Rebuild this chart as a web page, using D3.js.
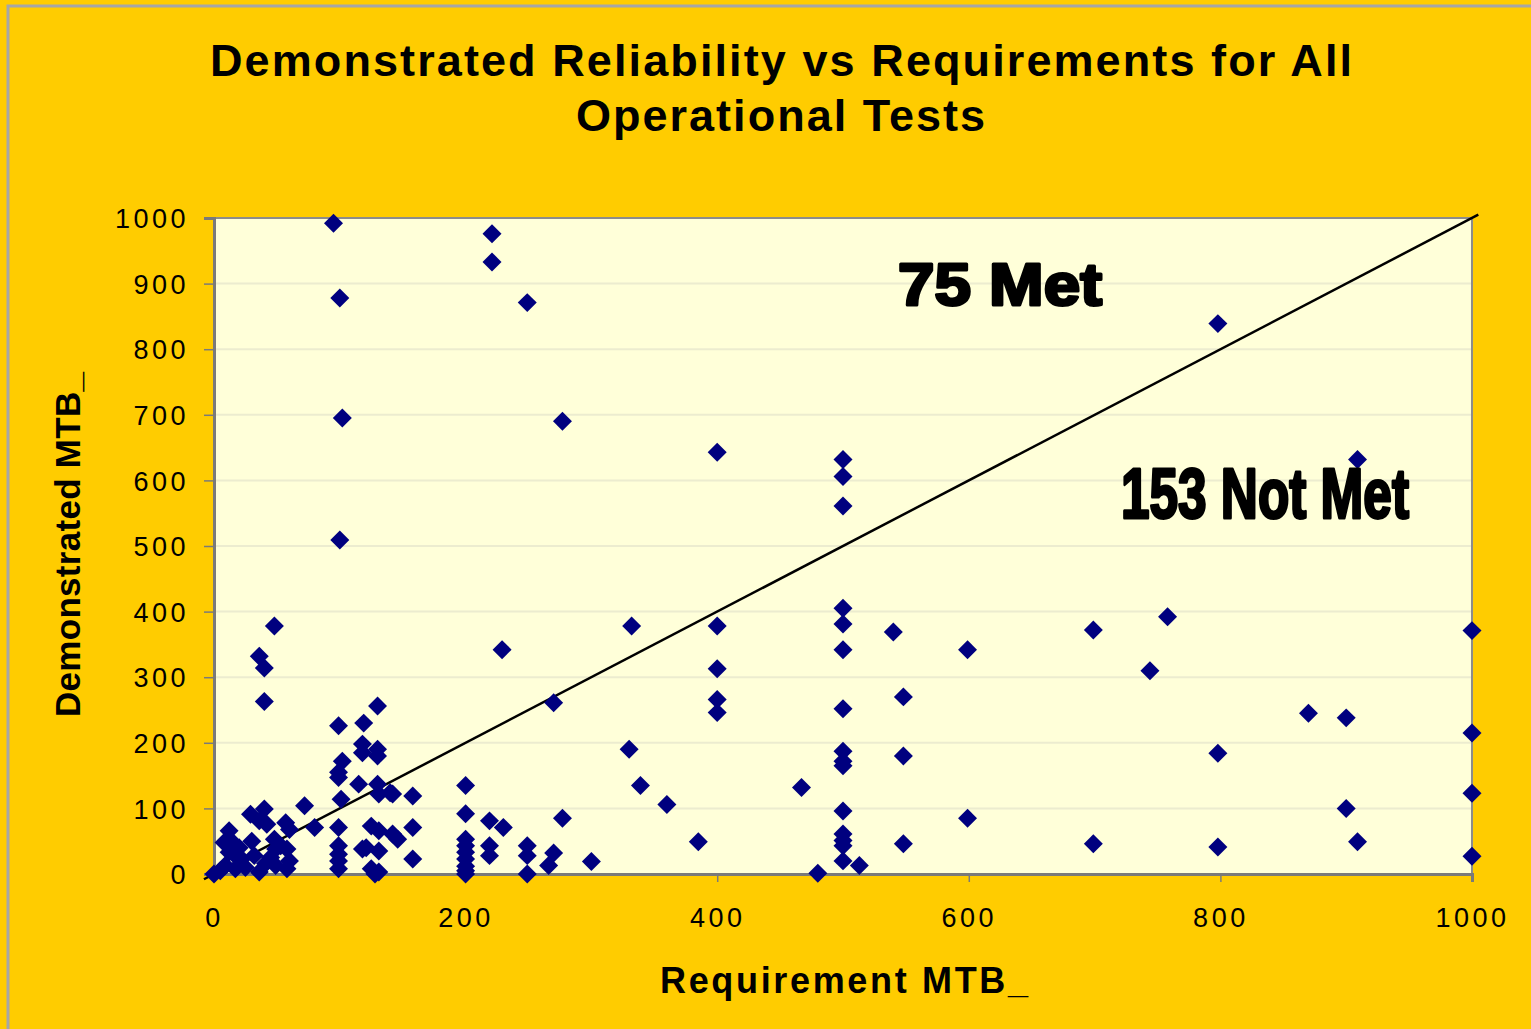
<!DOCTYPE html>
<html>
<head>
<meta charset="utf-8">
<script src="https://cdn.jsdelivr.net/npm/d3@7"></script>
<style>
  html, body { margin: 0; padding: 0; background: #FFCC00; }
  svg { display: block; }
</style>
</head>
<body>
<div id="chart"></div>
<script>
// chart values
const titleLines = ["Demonstrated Reliability vs Requirements for All", "Operational Tests"];
const xTitle = "Requirement MTB_";
const yTitle = "Demonstrated MTB_";
const xTicks = [0, 200, 400, 600, 800, 1000];
const yTicks = [0, 100, 200, 300, 400, 500, 600, 700, 800, 900, 1000];
const metLabel = "75 Met";
const notMetLabel = "153 Not Met";
const diagonal = [[-8, -8], [1005, 1005]];

// requirement (x) and demonstrated (y) for each test, same order
const requirement = [
  95, 100, 102, 100, 221, 221, 249, 277, 400, 798, 909,
  500, 500, 500, 500, 500, 500, 500, 500, 500, 500, 500, 500, 500, 500, 500, 513, 480, 467,
  540, 548, 548, 548, 599, 599, 699, 699, 744, 758, 798, 798, 870, 900, 900, 909, 1000, 1000, 1000, 1000,
  400, 400, 400, 400, 332, 229, 270, 330, 339, 360, 385,
  200, 200, 200, 200, 200, 200, 200, 200, 200,
  219, 219, 219, 230, 249, 249, 249, 266, 270, 277, 300,
  48, 36, 40, 40,
  99, 119, 130, 118, 130, 118, 130, 102, 99, 115, 130, 131, 142, 158, 101, 72, 80, 99, 125, 131, 142, 146,
  158, 118, 131, 99, 99, 99, 99, 158, 125, 131, 128, 121, 140, 99,
  12, 8, 15, 12, 17, 22, 9, 17, 0, 32, 36, 41, 49, 58, 49, 58, 29, 40, 36, 42, 57, 60, 48, 53, 25, 5, 30, 20, 45, 60
];
const demonstrated = [
  992, 878, 695, 509, 976, 933, 871, 690, 643, 839, 632,
  632, 606, 561, 405, 381, 342, 252, 187, 172, 165, 96, 61, 51, 43, 20, 13, 1, 132,
  369, 270, 180, 46, 342, 85, 372, 46, 310, 392, 184, 41, 245, 238, 100, 49, 371, 215, 123, 27,
  378, 313, 266, 246, 378, 342, 261, 190, 135, 106, 49,
  135, 92, 53, 43, 33, 23, 12, 5, 0,
  81, 43, 28, 71, 43, 28, 0, 13, 32, 85, 19,
  378, 332, 314, 263,
  226, 230, 256, 198, 190, 185, 180, 172, 147, 137, 137, 122, 122, 119, 114, 104, 71, 71, 73, 66, 61, 53,
  71, 38, 35, 43, 30, 20, 8, 23, 8, 3, 0, 40, 124, 155,
  66, 48, 48, 33, 28, 23, 13, 8, 0, 28, 3, 16, 38, 38, 13, 8, 91, 99, 81, 76, 78, 68, 53, 43, 10, 5, 50, 40, 25, 20
];

const W = 1531, H = 1029;
const margin = { top: 218, right: 59, bottom: 155, left: 214 };
const width = W - margin.left - margin.right;
const height = H - margin.top - margin.bottom;
const font = "'Liberation Sans', Arial, sans-serif";

const svg = d3.select("#chart").append("svg")
    .attr("width", W)
    .attr("height", H);

svg.append("rect").attr("width", W).attr("height", H).attr("fill", "#FFCC00");
// outer frame
svg.append("rect")
    .attr("x", 8).attr("y", 6)
    .attr("width", W + 20).attr("height", H + 20)
    .attr("fill", "none")
    .attr("stroke", "#A6A6A6")
    .attr("stroke-width", 3);

// title
svg.append("g").selectAll("text")
    .data(titleLines)
    .enter().append("text")
    .attr("x", (d, i) => i === 0 ? 210 : 576)
    .attr("y", (d, i) => 76 + i * 55)
    .attr("textLength", (d, i) => i === 0 ? 1142 : 409)
    .attr("lengthAdjust", "spacing")
    .style("font-family", font)
    .style("font-weight", "bold")
    .style("font-size", "45px")
    .style("fill", "#000")
    .text(d => d);

const g = svg.append("g").attr("transform", `translate(${margin.left},${margin.top})`);

const x = d3.scaleLinear().domain([0, 1000]).range([0, width]);
const y = d3.scaleLinear().domain([0, 1000]).range([height, 0]);

// plot area
g.append("rect")
    .attr("width", width).attr("height", height)
    .attr("fill", "#FFFFD9");

// gridlines
g.selectAll(".grid")
    .data(yTicks.filter(d => d > 0 && d < 1000))
    .enter().append("line")
    .attr("x1", 0).attr("x2", width)
    .attr("y1", d => y(d)).attr("y2", d => y(d))
    .attr("stroke", "#ECECCF")
    .attr("stroke-width", 2);

// top and right border
g.append("path")
    .attr("d", `M0,0H${width}V${height}`)
    .attr("fill", "none")
    .attr("stroke", "#8C8C8C")
    .attr("stroke-width", 2);

// axes
const yAxis = g.append("g")
    .call(d3.axisLeft(y).tickValues(yTicks).tickFormat(d3.format("d")).tickSize(10).tickPadding(15));
const xAxis = g.append("g")
    .attr("transform", `translate(0,${height})`)
    .call(d3.axisBottom(x).tickValues(xTicks).tickFormat(d3.format("d")).tickSize(8).tickPadding(26));

[yAxis, xAxis].forEach(ax => {
  ax.select(".domain").attr("stroke", "#7A7A7A").attr("stroke-width", 3);
  ax.selectAll(".tick line").attr("stroke", "#7A7A7A").attr("stroke-width", 1.5);
  ax.selectAll(".tick text")
      .style("font-family", font)
      .style("font-size", "27px")
      .style("letter-spacing", "3.5px")
      .style("fill", "#000");
});
yAxis.selectAll(".tick text").attr("dy", "0.36em");

// y = x line
g.append("path")
    .datum(diagonal)
    .attr("d", d3.line().x(d => x(d[0])).y(d => y(d[1])))
    .attr("fill", "none")
    .attr("stroke", "#000")
    .attr("stroke-width", 2.5);

// points
const pts = requirement.map((r, i) => [r, demonstrated[i]]);
g.selectAll(".pt")
    .data(pts)
    .enter().append("path")
    .attr("class", "pt")
    .attr("d", d3.symbol().type(d3.symbolSquare).size(180))
    .attr("transform", d => `translate(${x(d[0])},${y(d[1])}) rotate(45)`)
    .attr("fill", "#00007F");

// annotations
svg.append("text")
    .attr("x", 898).attr("y", 305)
    .attr("textLength", 204)
    .attr("lengthAdjust", "spacingAndGlyphs")
    .style("font-family", font)
    .style("font-weight", "bold")
    .style("font-size", "60px")
    .style("stroke", "#000")
    .style("stroke-width", 3)
    .style("stroke-linejoin", "round")
    .text(metLabel);

svg.append("text")
    .attr("x", 1121).attr("y", 518)
    .attr("textLength", 288)
    .attr("lengthAdjust", "spacingAndGlyphs")
    .style("font-family", font)
    .style("font-weight", "bold")
    .style("font-size", "70px")
    .style("stroke", "#000")
    .style("stroke-width", 3)
    .style("stroke-linejoin", "round")
    .text(notMetLabel);

// axis titles
svg.append("text")
    .attr("x", 660).attr("y", 993)
    .attr("textLength", 368)
    .attr("lengthAdjust", "spacing")
    .style("font-family", font)
    .style("font-weight", "bold")
    .style("font-size", "36px")
    .text(xTitle);

svg.append("text")
    .attr("transform", "translate(80,717) rotate(-90)")
    .attr("textLength", 345)
    .attr("lengthAdjust", "spacing")
    .style("font-family", font)
    .style("font-weight", "bold")
    .style("font-size", "35px")
    .text(yTitle);
</script>
</body>
</html>
